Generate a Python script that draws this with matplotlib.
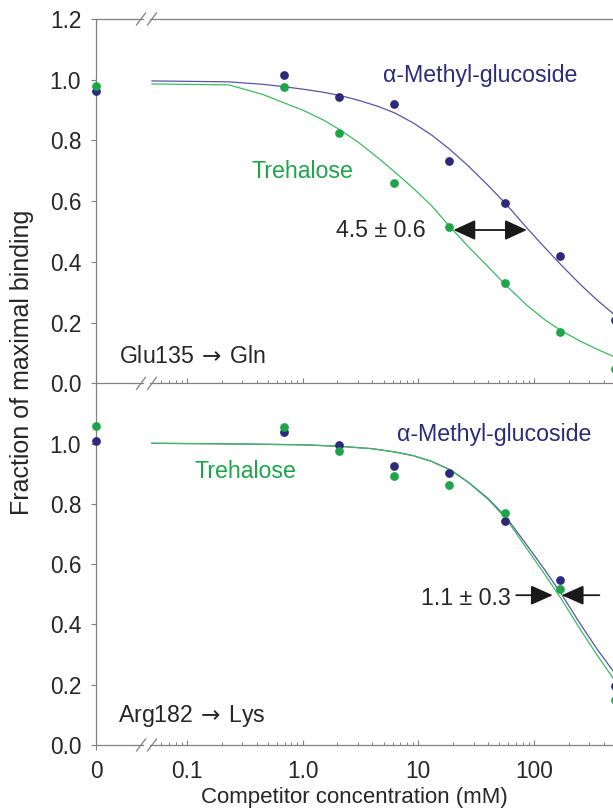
import numpy as np
import matplotlib
matplotlib.use('Agg')
import matplotlib.pyplot as plt
import matplotlib.lines as mlines
from matplotlib.patches import FancyArrowPatch, ArrowStyle
from matplotlib.lines import Line2D
from matplotlib.ticker import FixedLocator, FixedFormatter, NullFormatter

plt.rcParams['font.family'] = ['Liberation Sans', 'DejaVu Sans']
plt.rcParams['mathtext.fontset'] = 'dejavusans'

# ---------------- data ----------------
conc = [0, 0.686, 2.06, 6.17, 18.5, 55.6, 167, 500]

# Glu135 -> Gln panel
top_amg = [0.964, 1.016, 0.944, 0.919, 0.732, 0.595, 0.420, 0.209]
top_tre = [0.980, 0.976, 0.826, 0.661, 0.515, 0.329, 0.168, 0.046]

top_amg_fit_x = [0.05, 0.23, 0.45, 0.69, 1.0, 1.5, 2.1, 3.0, 4.5, 6.3, 9, 13, 18.5, 27, 40, 57,
                 86, 125, 170, 250, 350, 480]
top_amg_fit_y = [0.996, 0.993, 0.985, 0.977, 0.969, 0.959, 0.948, 0.933, 0.912, 0.890, 0.858, 0.818,
                 0.772, 0.716, 0.652, 0.591, 0.513, 0.445, 0.391, 0.326, 0.274, 0.230]
top_tre_fit_x = [0.05, 0.23, 0.45, 0.69, 1.0, 1.5, 2.1, 3.0, 4.5, 6.3, 9, 13, 18.5, 27, 40, 57,
                 86, 125, 170, 250, 350, 480]
top_tre_fit_y = [0.986, 0.983, 0.952, 0.924, 0.900, 0.868, 0.835, 0.795, 0.742, 0.695, 0.643, 0.585,
                 0.518, 0.450, 0.384, 0.323, 0.258, 0.208, 0.174, 0.139, 0.112, 0.089]

# Arg182 -> Lys panel
bot_amg = [1.009, 1.040, 0.996, 0.925, 0.903, 0.742, 0.546, 0.196]
bot_tre = [1.057, 1.054, 0.975, 0.891, 0.864, 0.770, 0.518, 0.149]

bot_amg_fit_x = [0.05, 0.23, 1.0, 2.1, 4.0, 6.3, 9, 13, 18.9, 27, 40, 57, 81, 120, 170, 250, 350, 480]
bot_amg_fit_y = [1.001, 0.999, 0.996, 0.991, 0.983, 0.972, 0.960, 0.941, 0.913, 0.872, 0.818, 0.757,
                 0.678, 0.588, 0.504, 0.402, 0.318, 0.246]
bot_tre_fit_x = [0.05, 0.23, 1.0, 2.1, 4.0, 6.3, 9, 13, 18.9, 27, 40, 57, 81, 120, 170, 250, 350, 480]
bot_tre_fit_y = [1.001, 0.999, 0.996, 0.991, 0.983, 0.972, 0.960, 0.941, 0.912, 0.871, 0.815, 0.752,
                 0.667, 0.573, 0.487, 0.384, 0.298, 0.222]

# annotation arrows (concentration, fraction)
top_arrow = [(20.1, 0.505), (86.5, 0.505)]
bot_arrow_left = [(70, 0.497), (145, 0.497)]
bot_arrow_right = [(366, 0.497), (173, 0.497)]

xtick_vals = [0, 0.1, 1, 10, 100]
xtick_labels = ['0', '0.1', '1.0', '10', '100']
xminor_vals = [k * 10.0 ** n for n in range(-2, 3) for k in range(2, 10) if 0.055 < k * 10.0 ** n < 480]
top_ytick_vals = [0.0, 0.2, 0.4, 0.6, 0.8, 1.0, 1.2]
top_ytick_labels = ['0.0', '0.2', '0.4', '0.6', '0.8', '1.0', '1.2']
bot_ytick_vals = [0.0, 0.2, 0.4, 0.6, 0.8, 1.0]
bot_ytick_labels = ['0.0', '0.2', '0.4', '0.6', '0.8', '1.0']

BLUE = '#2D2A7C'
GREEN = '#1EA54A'
BLUE_LINE = '#5855A8'
GREEN_LINE = '#3DBB5E'
AXC = '#808080'
TXT = '#262626'
FS_TICK = 16.3
FS_XLAB = 16.0
FS_YLAB = 18.0
FS_ANN = 16.7

# ------------- broken log scale (0 placed left of the break) -------------
ZERO_POS = -1.7845
CUT = 0.03
LCUT = np.log10(CUT)


def fwd(x):
    x = np.asarray(x, dtype=float)
    with np.errstate(divide='ignore', invalid='ignore'):
        lg = np.log10(np.where(x > 0, x, 1.0))
    lin = ZERO_POS + (LCUT - ZERO_POS) * x / CUT
    return np.where(x >= CUT, lg, lin)


def inv(y):
    y = np.asarray(y, dtype=float)
    lin = CUT * (y - ZERO_POS) / (LCUT - ZERO_POS)
    with np.errstate(over='ignore'):
        ex = 10.0 ** np.minimum(y, 300)
    return np.where(y >= LCUT, ex, lin)


fig = plt.figure(figsize=(6.13, 8.08), dpi=100)
L = 96 / 613
W = 1 - L
ax1 = fig.add_axes([L, (808 - 383.3) / 808, W, (383.3 - 19) / 808])
ax2 = fig.add_axes([L, (808 - 745) / 808, W, (745 - 383.3) / 808])


def style(ax, yvals, ylabels, show_x, edges):
    ax.patch.set_visible(False)
    ax.set_xscale('function', functions=(fwd, inv))
    ax.set_xlim(0, 480)
    ax.set_ylim(0, 1.2)
    for s in ['top', 'right', 'bottom']:
        ax.spines[s].set_visible(False)
    ax.spines['left'].set_color(AXC)
    ax.spines['left'].set_linewidth(0.9)
    ax.xaxis.set_major_locator(FixedLocator(xtick_vals))
    ax.xaxis.set_minor_locator(FixedLocator(xminor_vals))
    ax.xaxis.set_minor_formatter(NullFormatter())
    if show_x:
        ax.xaxis.set_major_formatter(FixedFormatter(xtick_labels))
    else:
        ax.xaxis.set_major_formatter(NullFormatter())
    ax.yaxis.set_major_locator(FixedLocator(yvals))
    ax.yaxis.set_major_formatter(FixedFormatter(ylabels))
    ax.tick_params(axis='y', direction='out', length=3.7, width=0.8, color=AXC,
                   pad=7.0, labelsize=FS_TICK, labelcolor=TXT)
    ax.tick_params(axis='x', which='major', direction='in', length=3.8, width=0.8,
                   color=AXC, pad=10.5, labelsize=FS_TICK, labelcolor=TXT)
    ax.tick_params(axis='x', which='minor', direction='in', length=2.4, width=0.7, color=AXC)
    # horizontal axis lines with a "//" break
    x1, x2 = (143 - 96) / 517, (150 - 96) / 517
    dx, dy = 4.5 / 517, 6 / 364
    for yy in edges:
        ax.add_line(Line2D([0, x1], [yy, yy], transform=ax.transAxes, color=AXC, lw=0.9,
                           clip_on=False))
        ax.add_line(Line2D([x2, 1], [yy, yy], transform=ax.transAxes, color=AXC, lw=0.9,
                           clip_on=False))
        for cx in [(141 - 96) / 517, (152 - 96) / 517]:
            ax.add_line(Line2D([cx - dx, cx + dx], [yy - dy, yy + dy], transform=ax.transAxes,
                               color=AXC, lw=0.9, clip_on=False))


style(ax1, top_ytick_vals, top_ytick_labels, False, [0, 1])
style(ax2, bot_ytick_vals, bot_ytick_labels, True, [0])

# zero tick points outward on the lower panel
ax2.xaxis.get_major_ticks()[0].tick1line.set_marker(mlines.TICKDOWN)

# fitted curves
ax1.plot(top_amg_fit_x, top_amg_fit_y, color=BLUE_LINE, lw=0.9, zorder=2)
ax1.plot(top_tre_fit_x, top_tre_fit_y, color=GREEN_LINE, lw=0.9, zorder=2)
ax2.plot(bot_amg_fit_x, bot_amg_fit_y, color=BLUE_LINE, lw=0.9, zorder=2)
ax2.plot(bot_tre_fit_x, bot_tre_fit_y, color=GREEN_LINE, lw=0.9, zorder=2)

# data points
for ax, a, t in [(ax1, top_amg, top_tre), (ax2, bot_amg, bot_tre)]:
    ax.plot(conc, a, 'o', color=BLUE, ms=6.3, mec='none', clip_on=False, zorder=3)
    ax.plot(conc, t, 'o', color=GREEN, ms=6.3, mec='none', clip_on=False, zorder=4)


# arrows
def arrow(ax, p0, p1, style):
    ax.add_patch(FancyArrowPatch(p0, p1, arrowstyle=style, mutation_scale=1, lw=1.3,
                                 color='#1a1a1a', shrinkA=0, shrinkB=0, zorder=5))


arrow(ax1, top_arrow[0], top_arrow[1], ArrowStyle('<|-|>', head_length=13.5, head_width=6.2))
arrow(ax2, bot_arrow_left[0], bot_arrow_left[1], ArrowStyle('-|>', head_length=13.5, head_width=6.0))
arrow(ax2, bot_arrow_right[0], bot_arrow_right[1], ArrowStyle('-|>', head_length=13.5, head_width=6.0))


# text labels
def label(ax, xf, yf, s, color):
    ax.text(xf, yf, s, transform=ax.transAxes, ha='left', va='baseline', fontsize=FS_ANN,
            color=color)


label(ax1, (383 - 96) / 517, 0.828, 'α-Methyl-glucoside', BLUE)
label(ax1, (251 - 96) / 517, 0.5627, 'Trehalose', GREEN)
label(ax1, (335.7 - 96) / 517, 0.4024, '4.5 ± 0.6', TXT)
label(ax1, (119 - 96) / 517, 0.0549, 'Glu135$\\,\\rightarrow\\,$Gln', TXT)

label(ax2, (396.7 - 96) / 517, 0.8413, 'α-Methyl-glucoside', BLUE)
label(ax2, (194.3 - 96) / 517, 0.7374, 'Trehalose', GREEN)
label(ax2, (421 - 96) / 517, 0.3871, '1.1 ± 0.3', TXT)
label(ax2, (118 - 96) / 517, 0.0644, 'Arg182$\\,\\rightarrow\\,$Lys', TXT)

fig.text((96 + 613) / 2 / 613, (808 - 803) / 808, 'Competitor concentration (mM)',
         ha='center', va='baseline', fontsize=FS_XLAB, color=TXT)
fig.text(22.5 / 613, 1 - 362 / 808, 'Fraction of maximal binding', rotation=90,
         ha='center', va='center', fontsize=FS_YLAB, color=TXT)

fig.savefig('out.png', dpi=100)
